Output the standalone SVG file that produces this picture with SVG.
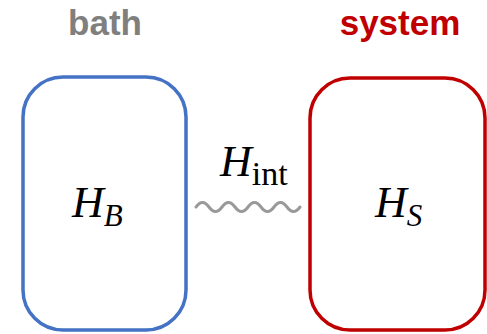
<svg xmlns="http://www.w3.org/2000/svg" width="487" height="334" viewBox="0 0 487 334">
<style>
.lbl{font-family:"Liberation Sans",Arial,sans-serif;font-weight:bold;font-size:35px;text-anchor:middle}
.math{font-family:"Liberation Serif","DejaVu Serif",serif;font-style:italic;font-size:44px;fill:#000}
.sub{font-size:31px}
.up{font-style:normal;font-size:34px}
.box{fill:#fff;stroke-width:3.5}
</style>
<rect width="487" height="334" fill="#fff"/>
<g id="bath">
<text class="lbl" x="105" y="35" fill="#7f7f7f">bath</text>
<rect class="box" x="23" y="77" width="163" height="253" rx="40" stroke="#4472c4"/>
<text class="math" x="72" y="217">H<tspan class="sub" dy="9">B</tspan></text>
</g>
<g id="system">
<text class="lbl" x="400" y="35" fill="#c00000">system</text>
<rect class="box" x="310" y="78" width="175" height="252" rx="40" stroke="#c00000"/>
<text class="math" x="375" y="217">H<tspan class="sub" dy="9">S</tspan></text>
</g>
<g id="connectors">
<path d="M196,207 q6.5,-9 13,0 t13,0 t13,0 t13,0 t13,0 t13,0 t13,0 t13,0" fill="none" stroke="#999" stroke-width="3" stroke-linecap="round"/>
<text class="math" x="220" y="176">H<tspan class="sub up" dy="9">int</tspan></text>
</g>
</svg>
